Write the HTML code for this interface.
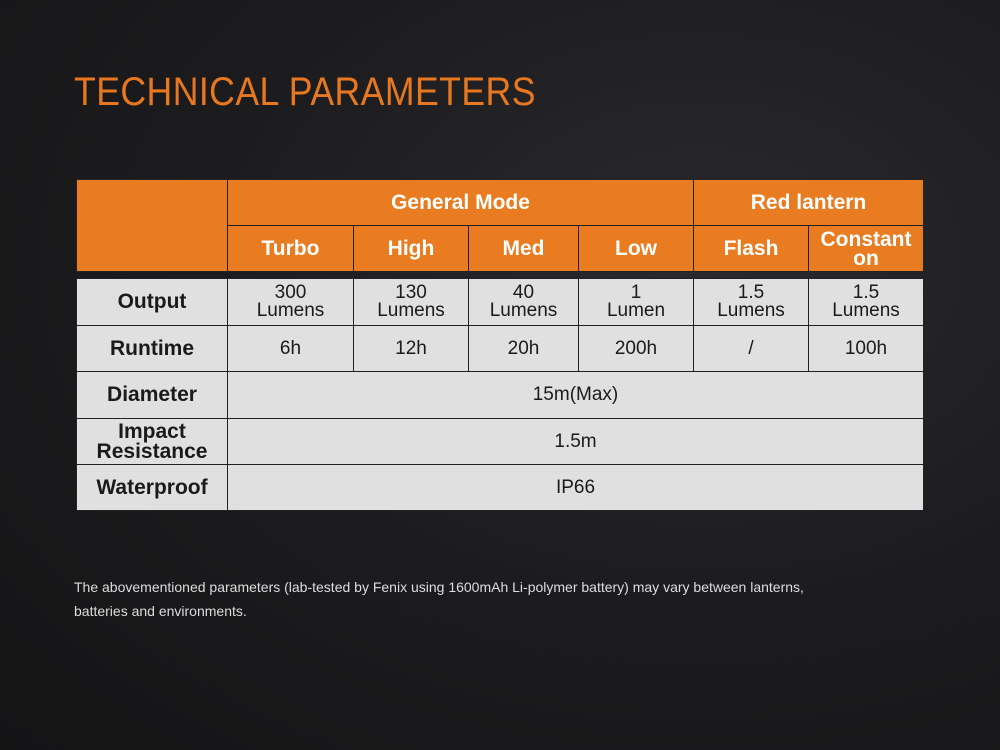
<!DOCTYPE html>
<html><head><meta charset="utf-8"><style>
*{margin:0;padding:0;box-sizing:border-box}
body{width:1000px;height:750px;overflow:hidden;background:radial-gradient(ellipse at 70% 35%,#2a2a2c 0%,#1c1c1e 50%,#141415 100%);font-family:"Liberation Sans",sans-serif;position:relative}
.t{position:absolute;left:74px;top:70px;color:#e8781f;font-size:40px;letter-spacing:0.5px;transform:scaleX(0.89);transform-origin:left top;white-space:nowrap}
.c{position:absolute;display:flex;align-items:center;justify-content:center;text-align:center;border:1px solid #222}
.o{background:#e97c20;color:#fff;font-weight:bold;font-size:21px}
.g{background:#e0e0e0;color:#1a1a1a;font-size:19px;line-height:18px}
.b{font-weight:bold;font-size:21px;line-height:20px}
.n{position:absolute;left:74px;top:575px;color:#ddd;font-size:14px;line-height:24px}
</style></head><body>
<div class="t">TECHNICAL PARAMETERS</div>
<div class="c o" style="left:76px;top:179px;width:152px;height:93px"></div>
<div class="c o" style="left:227px;top:179px;width:467px;height:47px">General Mode</div>
<div class="c o" style="left:693px;top:179px;width:231px;height:47px">Red lantern</div>
<div class="c o" style="left:227px;top:225px;width:127px;height:47px">Turbo</div>
<div class="c o" style="left:353px;top:225px;width:116px;height:47px">High</div>
<div class="c o" style="left:468px;top:225px;width:111px;height:47px">Med</div>
<div class="c o" style="left:578px;top:225px;width:116px;height:47px">Low</div>
<div class="c o" style="left:693px;top:225px;width:116px;height:47px">Flash</div>
<div class="c o" style="left:808px;top:225px;width:116px;height:47px;line-height:19px">Constant<br>on</div>

<div class="c g b" style="left:76px;top:278px;width:152px;height:48px">Output</div>
<div class="c g" style="left:227px;top:278px;width:127px;height:48px">300<br>Lumens</div>
<div class="c g" style="left:353px;top:278px;width:116px;height:48px">130<br>Lumens</div>
<div class="c g" style="left:468px;top:278px;width:111px;height:48px">40<br>Lumens</div>
<div class="c g" style="left:578px;top:278px;width:116px;height:48px">1<br>Lumen</div>
<div class="c g" style="left:693px;top:278px;width:116px;height:48px">1.5<br>Lumens</div>
<div class="c g" style="left:808px;top:278px;width:116px;height:48px">1.5<br>Lumens</div>

<div class="c g b" style="left:76px;top:325px;width:152px;height:47px">Runtime</div>
<div class="c g" style="left:227px;top:325px;width:127px;height:47px">6h</div>
<div class="c g" style="left:353px;top:325px;width:116px;height:47px">12h</div>
<div class="c g" style="left:468px;top:325px;width:111px;height:47px">20h</div>
<div class="c g" style="left:578px;top:325px;width:116px;height:47px">200h</div>
<div class="c g" style="left:693px;top:325px;width:116px;height:47px">/</div>
<div class="c g" style="left:808px;top:325px;width:116px;height:47px">100h</div>

<div class="c g b" style="left:76px;top:371px;width:152px;height:48px">Diameter</div>
<div class="c g" style="left:227px;top:371px;width:697px;height:48px">15m(Max)</div>
<div class="c g b" style="left:76px;top:418px;width:152px;height:47px">Impact<br>Resistance</div>
<div class="c g" style="left:227px;top:418px;width:697px;height:47px">1.5m</div>
<div class="c g b" style="left:76px;top:464px;width:152px;height:47px">Waterproof</div>
<div class="c g" style="left:227px;top:464px;width:697px;height:47px">IP66</div>

<div class="n">The abovementioned parameters (lab-tested by Fenix using 1600mAh Li-polymer battery) may vary between lanterns,<br>batteries and environments.</div>
</body></html>
